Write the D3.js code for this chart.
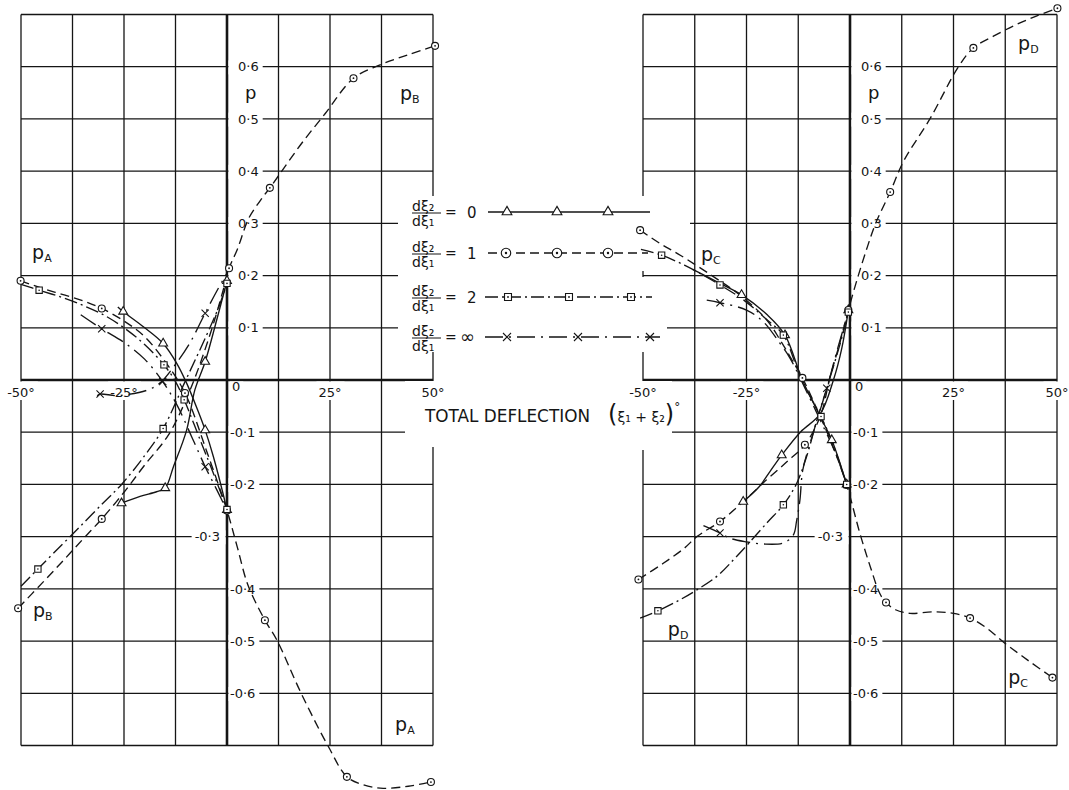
<!DOCTYPE html>
<html>
<head>
<meta charset="utf-8">
<script src="https://cdn.jsdelivr.net/npm/d3@7.9.0/dist/d3.min.js"></script>
<style>
body{margin:0;background:#fff;}
svg{display:block;font-family:"DejaVu Sans",sans-serif;}
</style>
</head>
<body>
<svg id="chart" width="1069" height="790"></svg>
<script>
// grid and tick values
const xGrid=[-50,-37.5,-25,-12.5,0,12.5,25,37.5,50];
const pGrid=[-0.7,-0.6,-0.5,-0.4,-0.3,-0.2,-0.1,0,0.1,0.2,0.3,0.4,0.5,0.6,0.7];
const xTicks=[-50,-25,0,25,50];
const xTickLabels=["-50°","-25°","0","25°","50°"];
const pTicks=[0.6,0.5,0.4,0.3,0.2,0.1,-0.1,-0.2,-0.3,-0.4,-0.5,-0.6];
const pTickLabels=["0·6","0·5","0·4","0·3","0·2","0·1","-0·1","-0·2","-0·3","-0·4","-0·5","-0·6"];
const ratios=["0","1","2","∞"];

// left panel curves: [total deflection, p, marker?]
const pA_0=[[-26.5,0.14],[-25.2,0.131,1],[-20.3,0.102],[-15.5,0.07,1],[-12.2,0.032],[-9.8,-0.006],[-7,-0.06],[-5.3,-0.096,1],[-3.3,-0.147],[0,-0.249,1]];
const pB_0=[[-25.6,-0.236,1],[-21.1,-0.223],[-17.1,-0.214],[-15,-0.207,1],[-13,-0.166],[-9.8,-0.096],[-7.8,-0.019],[-5.3,0.035,1],[-2.5,0.115],[0,0.19,1]];
const pA_1=[[-50.1,0.19,1],[-45,0.176],[-40,0.164],[-35,0.152],[-30.4,0.137,1],[-25,0.113],[-20,0.083],[-15,0.035],[-10.2,-0.025,1],[-5,-0.135],[0,-0.25,1],[2.5,-0.32],[5.1,-0.393],[9.2,-0.46,1],[12.1,-0.498],[18,-0.6],[24.6,-0.702],[29.1,-0.76,1],[33,-0.775],[37.9,-0.782],[44,-0.778],[49.5,-0.77,1]];
const pB_1=[[-50.7,-0.437,1],[-45,-0.39],[-40,-0.348],[-35,-0.305],[-30.4,-0.266,1],[-25,-0.215],[-20,-0.163],[-14.2,-0.105],[-9,-0.02],[-4,0.09],[-1,0.17],[0.5,0.214,1],[2.5,0.25],[5.3,0.31],[8.2,0.345],[10.4,0.368,1],[13.3,0.4],[18,0.452],[23.8,0.51],[30.7,0.578,1],[37,0.603],[44,0.623],[50.5,0.64,1]];
const pA_2=[[-50,0.183],[-45.6,0.172,1],[-40,0.158],[-35,0.143],[-30,0.125],[-25,0.1],[-20,0.068],[-15.3,0.029,1],[-12.5,-0.003],[-10.4,-0.038,1],[-6,-0.125],[-3,-0.185],[0,-0.248,1]];
const pB_2=[[-50,-0.395],[-45.9,-0.362,1],[-40,-0.315],[-35.7,-0.281],[-30,-0.235],[-25.6,-0.2],[-20,-0.145],[-15.5,-0.093,1],[-10,0],[-5,0.085],[-2,0.14],[0,0.185,1]];
const pA_inf=[[-35.5,0.125],[-30.4,0.098,1],[-25,0.072],[-20,0.04],[-15.6,-0.003,1],[-12,-0.05],[-8.5,-0.11],[-5.3,-0.166,1],[-2.5,-0.21],[0,-0.25]];
const pB_inf=[[-31.5,-0.03],[-30.8,-0.027,1],[-27,-0.03],[-24.3,-0.028],[-19.2,-0.019],[-16.3,-0.006],[-12.6,0.029],[-9,0.071],[-5.3,0.128,1],[-2.5,0.17],[0,0.205]];

// right panel curves
const pC_0=[[-38,0.212],[-31.4,0.185],[-26.2,0.163,1],[-20,0.125],[-15.7,0.086,1],[-11.5,0],[-7.2,-0.07],[-4.4,-0.115,1],[-0.8,-0.2,1]];
const pD_0=[[-25.8,-0.233,1],[-22,-0.205],[-19.3,-0.175],[-16.5,-0.144,1],[-12,-0.1],[-7.2,-0.065],[-4,0],[-2,0.06],[-0.4,0.134,1]];
const pC_1=[[-50.7,0.287,1],[-46,0.262],[-41,0.239],[-33,0.198],[-26.6,0.163],[-20.1,0.115],[-16.9,0.077],[-14.5,0.045],[-11.5,0.004,1],[-7.2,-0.07],[-4,-0.13],[-0.8,-0.201,1],[2.4,-0.294],[5,-0.36],[7.2,-0.409],[8.7,-0.426,1],[11,-0.44],[14.5,-0.447],[20.1,-0.444],[25,-0.447],[29,-0.456,1],[33,-0.475],[37.4,-0.504],[43,-0.537],[48.9,-0.57,1]];
const pD_1=[[-51.1,-0.382,1],[-45.1,-0.351],[-40,-0.322],[-37,-0.3],[-31.4,-0.271,1],[-25.8,-0.233],[-20,-0.19],[-15,-0.155],[-10.9,-0.124,1],[-7.2,-0.07],[-4.8,0.006],[-2.5,0.07],[-0.4,0.134,1],[2,0.2],[4.2,0.255],[6.2,0.3],[9.7,0.36,1],[13,0.42],[19.3,0.5],[26.2,0.6],[29.8,0.636,1],[35,0.66],[40,0.68],[45,0.697],[50.1,0.712,1]];
const pC_2=[[-50.5,0.25],[-45.5,0.239,1],[-40,0.22],[-36.2,0.204],[-31.4,0.182,1],[-26,0.155],[-20,0.115],[-16.1,0.086,1],[-11.7,0],[-7,-0.07,1],[-4,-0.125],[-0.8,-0.2,1]];
const pD_2=[[-50.7,-0.456],[-46.4,-0.442,1],[-41.1,-0.421],[-37,-0.402],[-32,-0.375],[-27.4,-0.338],[-20.1,-0.274],[-16.1,-0.239,1],[-13,-0.2],[-10.5,-0.147],[-8,-0.077],[-5,0],[-2,0.08],[-0.4,0.13,1]];
const pC_inf=[[-34.6,0.153],[-31.4,0.148,1],[-25,0.134],[-21,0.112],[-16.9,0.07],[-14.5,0.042],[-10,-0.03],[-7,-0.08],[-3.5,-0.14],[-0.8,-0.2]];
const pD_inf=[[-35.4,-0.279],[-31.4,-0.293,1],[-29,-0.303],[-25,-0.31],[-21,-0.314],[-16.1,-0.312],[-13.7,-0.297],[-12.9,-0.27],[-12.1,-0.23],[-11.4,-0.172],[-9.4,-0.115],[-7.7,-0.07],[-5.6,-0.016,1],[-3,0.06],[-0.4,0.13]];

// curve name labels [deflection, p]
const leftLabels=[["B",42,0.536],["A",-47.3,0.232],["B",-47.1,-0.454],["A",40.8,-0.672]];
const rightLabels=[["D",40.6,0.632],["C",-36,0.228],["D",-44,-0.49],["C",38.2,-0.582]];

const svg=d3.select('#chart');
const y=d3.scaleLinear().domain([-0.7,0.7]).range([745.5,14.5]);
const xL=d3.scaleLinear().domain([-50,50]).range([21,433]);
const xR=d3.scaleLinear().domain([-50,50]).range([643,1057]);
const ink='#151515';
const dash={"0":null,"1":"9,5","2":"13,4,2,4","∞":"18,6,2,6"};

function grid(x){
  const g=svg.append('g').attr('stroke',ink).attr('fill','none');
  g.selectAll(null).data(xGrid).enter().append('line')
    .attr('x1',d=>x(d)).attr('x2',d=>x(d)).attr('y1',y(0.7)).attr('y2',y(-0.7))
    .attr('stroke-width',d=>d===0?2.6:1.3);
  g.selectAll(null).data(pGrid).enter().append('line')
    .attr('x1',x(-50)).attr('x2',x(50)).attr('y1',d=>y(d)).attr('y2',d=>y(d))
    .attr('stroke-width',d=>Math.abs(d)<1e-9?2.6:1.3);
}
grid(xL);grid(xR);

// blank zones where the legend and axis title sit
const blanks=[[398,196,44,156],[405,381,37,66],[636,196,54,44],[636,240,14,31],[636,277,31,75],[636,381,36,69]];
svg.append('g').selectAll(null).data(blanks).enter().append('rect')
  .attr('x',d=>d[0]).attr('y',d=>d[1]).attr('width',d=>d[2]).attr('height',d=>d[3]).attr('fill','#fff');

function bg(g,t,x0,x1,y0,y1){
  const b=t.node().getBBox();
  const a=x0!=null?x0:b.x-2,c=x1!=null?x1:b.x+b.width+3;
  const u=y0!=null?y0:b.y+1,w=y1!=null?y1:b.y+b.height;
  g.insert('rect',()=>t.node()).attr('x',a).attr('y',u).attr('width',c-a).attr('height',w-u).attr('fill','#fff');
}

function ticks(x){
  const ax=x(0),g=svg.append('g').attr('font-size',13).attr('fill',ink);
  pTicks.forEach((v,i)=>{
    const left=Math.abs(v+0.3)<1e-9;
    const t=g.append('text').attr('y',y(v)).attr('dy','0.36em')
      .attr('x',left?ax-7:(v<0?ax+3:ax+11)).attr('text-anchor',left?'end':'start').text(pTickLabels[i]);
    const b=t.node().getBBox();
    if(left) bg(g,t,b.x-3,ax-1.5);else bg(g,t,ax+1.5,b.x+b.width+4);
  });
  xTicks.forEach((v,i)=>{
    const z=v===0;
    const t=g.append('text').attr('x',z?ax+5:x(v)).attr('y',z?391:397)
      .attr('text-anchor',z?'start':'middle').text(xTickLabels[i]);
    bg(g,t,null,null,y(0)+1.5,null);
  });
  g.append('text').attr('x',ax+18).attr('y',99).attr('font-size',18).text('p');
}
ticks(xL);ticks(xR);

const line=x=>d3.line().x(d=>x(d[0])).y(d=>y(d[1])).curve(d3.curveCatmullRom.alpha(0.5));
const sym={"0":d3.symbolTriangle,"2":d3.symbolSquare,"∞":d3.symbolX};
function mark(g,r,cx,cy,s){
  if(r==="1"){
    g.append('circle').attr('cx',cx).attr('cy',cy).attr('r',3.5*s).attr('fill','#fff').attr('stroke',ink).attr('stroke-width',1.1);
    g.append('circle').attr('cx',cx).attr('cy',cy).attr('r',0.9*s).attr('fill',ink);
    return;
  }
  const size={"0":34,"2":40,"∞":36}[r]*s*s;
  g.append('path').attr('d',d3.symbol(sym[r],size)()).attr('transform',`translate(${cx},${cy})`)
    .attr('fill',r==="∞"?'none':'#fff').attr('stroke',ink).attr('stroke-width',1.1);
  if(r==="2") g.append('circle').attr('cx',cx).attr('cy',cy).attr('r',0.8*s).attr('fill',ink);
}

function curves(x,list){
  const g=svg.append('g');
  list.forEach(([r,pts])=>{
    g.append('path').attr('d',line(x)(pts)).attr('fill','none').attr('stroke',ink)
      .attr('stroke-width',1.35).attr('stroke-dasharray',dash[r]);
  });
  list.forEach(([r,pts])=>pts.filter(d=>d[2]).forEach(d=>mark(g,r,x(d[0]),y(d[1]),1)));
}
curves(xL,[["0",pA_0],["0",pB_0],["1",pA_1],["1",pB_1],["2",pA_2],["2",pB_2],["∞",pA_inf],["∞",pB_inf]]);
curves(xR,[["0",pC_0],["0",pD_0],["1",pC_1],["1",pD_1],["2",pC_2],["2",pD_2],["∞",pC_inf],["∞",pD_inf]]);

function names(x,list){
  const g=svg.append('g').attr('fill',ink);
  list.forEach(([s,a,p])=>{
    const t=g.append('text').attr('x',x(a)).attr('y',y(p)).attr('font-size',19).text('p');
    t.append('tspan').attr('font-size',11).attr('dy',3).text(s);
  });
}
names(xL,leftLabels);names(xR,rightLabels);

// legend
const legRows=[212,253,297,337];
const legLine=[[488,650],[488,648],[485,652],[485,660]];
const legMarks=[[507,557,608],[506,557,608],[508,569,631],[507,578,650]];
const lg=svg.append('g').attr('fill',ink);
ratios.forEach((r,i)=>{
  const ry=legRows[i];
  lg.append('text').attr('x',412).attr('y',ry-1.5).attr('font-size',14).text('dξ₂');
  lg.append('line').attr('x1',412).attr('x2',441).attr('y1',ry+1).attr('y2',ry+1).attr('stroke',ink).attr('stroke-width',1);
  lg.append('text').attr('x',412).attr('y',ry+13.5).attr('font-size',14).text('dξ₁');
  lg.append('text').attr('x',445).attr('y',ry+5).attr('font-size',14).text('=');
  lg.append('text').attr('x',r==="∞"?460:467).attr('y',ry+5.5).attr('font-size',r==="∞"?18:15).text(r);
  lg.append('line').attr('x1',legLine[i][0]).attr('x2',legLine[i][1]).attr('y1',ry).attr('y2',ry)
    .attr('stroke',ink).attr('stroke-width',1.4).attr('stroke-dasharray',dash[r]);
  legMarks[i].forEach(mx=>mark(lg,r,mx,ry,r==="1"?1.35:1.1));
});

// axis title
const tg=svg.append('g').attr('fill',ink);
tg.append('text').attr('x',425).attr('y',422).attr('font-size',18)
  .attr('textLength',165).attr('lengthAdjust','spacingAndGlyphs').text('TOTAL DEFLECTION');
const pt=tg.append('text').attr('x',608).attr('y',422).attr('font-size',14);
pt.append('tspan').attr('font-size',24).text('(');
pt.append('tspan').text('ξ₁ + ξ₂');
pt.append('tspan').attr('font-size',24).text(')');
pt.append('tspan').attr('dy',-11).attr('font-size',12).text('°');
</script>
</body>
</html>
